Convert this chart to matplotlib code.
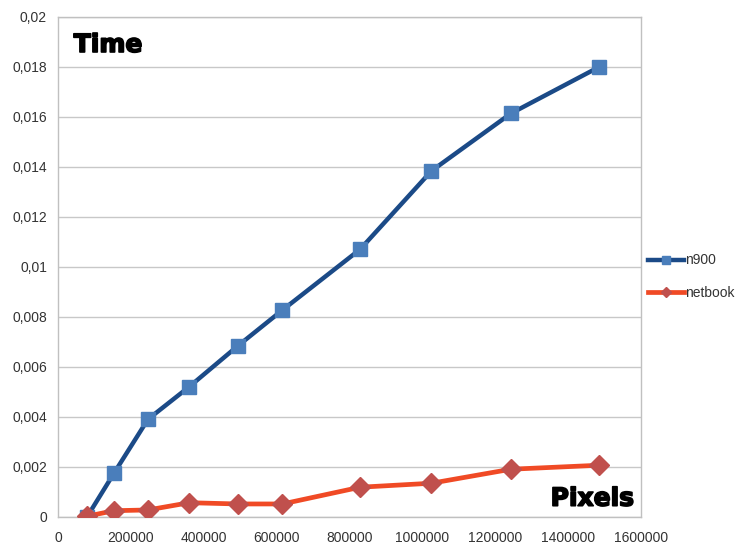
import matplotlib
matplotlib.use("Agg")
import matplotlib.pyplot as plt
import matplotlib.patheffects as pe
from matplotlib.ticker import FuncFormatter, MultipleLocator

# Image sizes (pixels) and timings (seconds)
pixels = [80000, 153600, 247000, 360000, 493000, 616000, 829000, 1025000, 1243000, 1485000]
n900 = [0.0, 0.00174, 0.0039, 0.0052, 0.00683, 0.00827, 0.0107, 0.01384, 0.01614, 0.0180]
netbook = [0.00002, 0.00024, 0.00027, 0.00056, 0.00051, 0.00051, 0.00118, 0.00134, 0.0019, 0.00206]

plt.rcParams['font.family'] = ['Liberation Sans', 'DejaVu Sans']

fig = plt.figure(figsize=(7.47, 5.5), dpi=100)
ax = fig.add_axes([58 / 747, 1 - 516.7 / 550, (641 - 58) / 747, (516.7 - 17) / 550])

ax.plot(pixels, n900, color='#1b4a87', lw=3.2, marker='s', ms=10.5,
        mfc='#4a7ebb', mec='#4a7ebb', label='n900', zorder=3)
ax.plot(pixels, netbook, color='#f04a25', lw=3.4, marker='D', ms=10,
        mfc='#c0504d', mec='#c0504d', label='netbook', zorder=4)

ax.set_xlim(0, 1600000)
ax.set_ylim(0, 0.02)
ax.xaxis.set_major_locator(MultipleLocator(200000))
ax.yaxis.set_major_locator(MultipleLocator(0.002))
ax.xaxis.set_major_formatter(FuncFormatter(lambda v, p: f"{int(round(v))}"))

def yfmt(v, p):
    if abs(v) < 1e-12:
        return "0"
    s = f"{v:.3f}".rstrip('0')
    return s.replace('.', ',')

ax.yaxis.set_major_formatter(FuncFormatter(yfmt))
ax.tick_params(axis='both', length=0, labelsize=10, colors='#333333', pad=8)
ax.tick_params(axis='x', pad=10)
ax.grid(axis='y', color='#c8c8c8', lw=1)
ax.set_axisbelow(True)
for s in ax.spines.values():
    s.set_color('#c0c0c0')
    s.set_linewidth(1)

stroke = [pe.withStroke(linewidth=1.2, foreground='black')]
ax.text(0.027, 0.968, 'Time', transform=ax.transAxes, fontsize=18,
        family='DejaVu Sans', fontweight='bold', ha='left', va='top',
        color='black', path_effects=stroke)
ax.text(0.988, 0.012, 'Pixels', transform=ax.transAxes, fontsize=18,
        family='DejaVu Sans', fontweight='bold', ha='right', va='bottom',
        color='black', path_effects=stroke)

leg = ax.legend(loc='center left', bbox_to_anchor=(1.0, 0.48), frameon=False,
                fontsize=10, markerscale=0.55, handlelength=2.6, handletextpad=0.1,
                labelspacing=1.35, borderaxespad=0.1)
for t in leg.get_texts():
    t.set_color('#333333')

fig.savefig('out.png', dpi=100)
